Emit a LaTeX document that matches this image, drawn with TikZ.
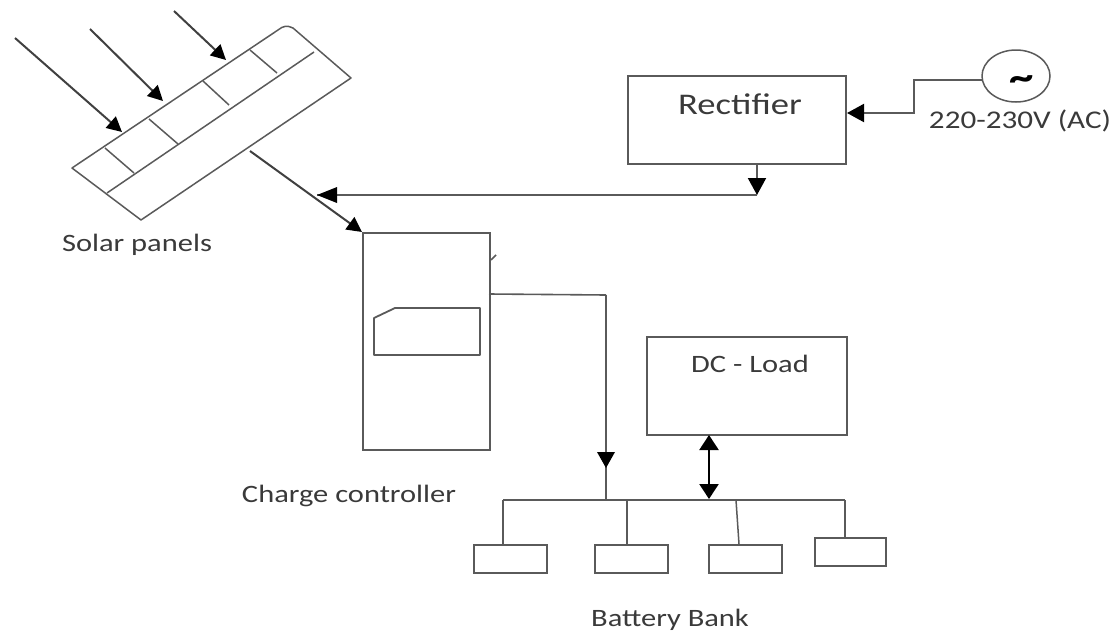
\documentclass[tikz,border=0pt]{standalone}
\usepackage{fontspec}
\setmainfont[FakeStretch=1.22]{Carlito}
\usetikzlibrary{arrows.meta,shapes.geometric}
\definecolor{ln}{HTML}{5A5A5A}
\definecolor{tx}{HTML}{3A3A3A}
\tikzset{
  x=1pt,y=-1pt,
  wire/.style={draw=ln,line width=1.8pt},
  thin wire/.style={draw=ln,line width=1.5pt},
  sun/.style={draw=black!75,line width=2pt,-{Triangle[length=15pt,width=15pt,color=black]}},
  tipped/.style={draw=ln,line width=2pt,-{Triangle[length=17pt,width=18pt,color=black]}},
  both tipped/.style={draw=black,line width=2.4pt,{Triangle[length=15pt,width=19pt]}-{Triangle[length=15pt,width=19pt]}},
  boxn/.style={draw=ln,line width=1.9pt,fill=white,inner sep=0pt,anchor=north west},
  batt/.style={boxn,minimum width=73pt,minimum height=28pt},
  lab/.style={text=tx,font=\fontsize{25}{28}\selectfont,inner sep=0pt}
}
\begin{document}
\begin{tikzpicture}
\useasboundingbox (0,0) rectangle (1120,635);
% solar panel
\coordinate (pl) at (72,168);
\coordinate (pb) at (141,220);
\coordinate (pr) at (351,78);
\coordinate (pt) at (293,28);
\coordinate (in1) at (107,193);
\coordinate (in2) at (314,52);
\coordinate (out) at (250,151);
\draw[thin wire,line join=round] (pl) -- (pb) -- (pr) -- (pt) .. controls (287,25) and (283,26) .. (278,30) -- cycle;
\draw[thin wire] (in1) -- (in2);
\draw[thin wire] (105,148) -- (134,173);
\draw[thin wire] (149,119) -- (178,144);
\draw[thin wire] (203,81) -- (229,105);
\draw[thin wire] (250,50) -- (277,73);
% sun rays
\coordinate (s1) at (15,38); \coordinate (e1) at (122,132);
\coordinate (s2) at (90,29); \coordinate (e2) at (163,101);
\coordinate (s3) at (174,11); \coordinate (e3) at (226,60);
\draw[sun] (s1) -- (e1);
\draw[sun] (s2) -- (e2);
\draw[sun] (s3) -- (e3);
% boxes
\node[boxn,minimum width=218pt,minimum height=88pt] (rect) at (627,75) {};
\node[boxn,minimum width=127pt,minimum height=217pt] (ctrl) at (362,232) {};
\node[boxn,minimum width=200pt,minimum height=98pt] (load) at (646,336) {};
\node[draw=ln,line width=1.5pt,ellipse,inner sep=0pt,minimum width=68pt,minimum height=52pt] (src) at (1016,76) {};
\node[batt] (b1) at (473,544) {};
\node[batt] (b2) at (594,544) {};
\node[batt] (b3) at (708,544) {};
\node[batt,minimum width=71pt] (b4) at (814,537) {};
% display inside controller
\draw[wire,line join=round] (374,318) -- (395,308) -- (480,308) -- (480,355) -- (374,355) -- cycle;
\draw[thin wire] (491,260) -- (496,255);
% connectors
\coordinate (srcw) at (982,80);
\coordinate (k1) at (914,80);
\coordinate (k2) at (914,113);
\coordinate (recin) at (847,113);
\draw[tipped] (srcw) -- (k1) -- (k2) -- (recin);
\coordinate (recout) at (757,163);
\coordinate (junc) at (757,195);
\coordinate (ptin) at (317,195);
\draw[tipped] (recout) -- (junc);
\draw[wire] (junc) -- (ptin);
\draw[draw=none,fill=black] (317,195) -- (337,187) -- (337,203) -- cycle;
\draw[sun] (out) -- (ctrl.north west);
\coordinate (cout) at (489,294);
\coordinate (c1) at (606,295);
\coordinate (busj) at (606,500);
\coordinate (arrj) at (606,468);
\draw[draw=ln,line width=1.6pt] (cout) -- (c1);
\draw[draw=ln,line width=2.4pt] (c1) -- (arrj);
\draw[thin wire] (arrj) -- (busj);
\draw[draw=none,fill=black] (606,468) -- (597,452) -- (615,452) -- cycle;
\coordinate (la) at (709,435);
\coordinate (lb) at (709,499);
\draw[both tipped] (la) -- (lb);
% bus
\coordinate (bw) at (503,500);
\coordinate (be) at (845,500);
\coordinate (t2) at (627,500);
\coordinate (t3) at (736,500);
\draw[thin wire] (bw) -- (be);
\draw[thin wire] (bw) -- (503,544);
\draw[thin wire] (t2) -- (627,544);
\draw[thin wire] (t3) -- (739,544);
\draw[thin wire] (be) -- (845,537);
% labels
\node[lab] (t1) at (137,245) {Solar panels};
\node[lab] (t5) at (349,496) {Charge controller};
\node[lab,font=\fontsize{30}{34}\selectfont] (t6) at (740,104) {Rectifier};
\node[lab,font=\fontsize{25.5}{28}\selectfont] (t7) at (1020,121) {220-230V (AC)};
\node[lab,font=\fontsize{25}{28}\selectfont] (t8) at (750,364) {DC - Load};
\node[lab] (t9) at (670,620) {Battery Bank};
\node[lab,font=\fontsize{40}{42}\bfseries\selectfont,text=black] (t10) at (1022,83) {\char"007E};
\end{tikzpicture}
\end{document}
